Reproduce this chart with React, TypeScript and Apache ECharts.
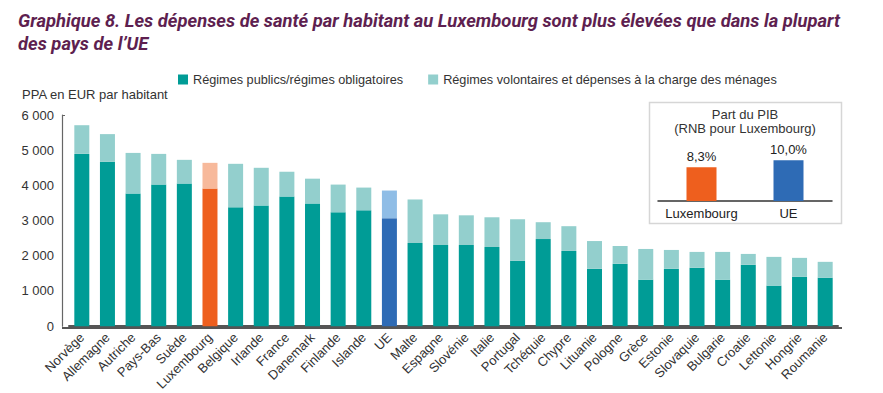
import React, { useEffect, useRef } from "react";
import * as echarts from "echarts";

const countries = ["Norvège","Allemagne","Autriche","Pays-Bas","Suède","Luxembourg","Belgique","Irlande","France","Danemark","Finlande","Islande","UE","Malte","Espagne","Slovénie","Italie","Portugal","Tchéquie","Chypre","Lituanie","Pologne","Grèce","Estonie","Slovaquie","Bulgarie","Croatie","Lettonie","Hongrie","Roumanie"];
const publicValues = [4895,4670,3770,4023,4051,3910,3376,3432,3685,3488,3235,3291,3066,2363,2307,2307,2250,1857,2475,2138,1631,1772,1322,1631,1660,1322,1744,1153,1406,1378];
const totalValues = [5710,5457,4923,4895,4726,4641,4613,4500,4388,4191,4023,3938,3854,3600,3178,3150,3094,3038,2954,2841,2419,2278,2194,2166,2110,2110,2053,1969,1941,1828];
const yTicks = [0, 1000, 2000, 3000, 4000, 5000, 6000];
const insetCategories = ["Luxembourg", "UE"];
const insetValues = [8.3, 10.0];
const legendNames = ["Régimes publics/régimes obligatoires", "Régimes volontaires et dépenses à la charge des ménages"];

const TEAL = "#009C96";
const TEAL_LIGHT = "#93CFCD";
const ORANGE = "#EE5F1E";
const ORANGE_LIGHT = "#F7B99B";
const BLUE = "#2E6BB5";
const BLUE_LIGHT = "#8FBDE6";
const FONT = "'Liberation Sans', Arial, sans-serif";

function fmt(v: number): string {
  return v === 0 ? "0" : String(v).replace(/\B(?=(\d{3})+(?!\d))/g, " ");
}

export default function App() {
  const ref = useRef<HTMLDivElement>(null);
  useEffect(() => {
    if (!ref.current) return;
    const chart = echarts.init(ref.current, null, { renderer: "svg" });
    const pubData = countries.map((c, i) => {
      let color = TEAL;
      if (c === "Luxembourg") color = ORANGE;
      if (c === "UE") color = BLUE;
      return { value: publicValues[i], itemStyle: { color } };
    });
    const volData = countries.map((c, i) => {
      let color = TEAL_LIGHT;
      if (c === "Luxembourg") color = ORANGE_LIGHT;
      if (c === "UE") color = BLUE_LIGHT;
      return { value: totalValues[i] - publicValues[i], itemStyle: { color } };
    });
    const option: any = {
      animation: false,
      backgroundColor: "#ffffff",
      textStyle: { fontFamily: FONT },
      title: {
        text: "Graphique 8. Les dépenses de santé par habitant au Luxembourg sont plus élevées que dans la plupart\ndes pays de l’UE",
        left: 13,
        top: 4,
        textStyle: {
          fontFamily: "'Liberation Sans Narrow', 'Roboto', sans-serif",
          fontStyle: "italic",
          fontWeight: "bold",
          fontSize: 18.4,
          lineHeight: 23,
          color: "#5E1F50",
        },
      },
      legend: {
        left: 173,
        top: 68,
        itemWidth: 10,
        itemHeight: 10,
        itemGap: 25,
        icon: "rect",
        textStyle: { fontSize: 12.7, color: "#333", fontFamily: FONT },
        data: [
          { name: legendNames[0], itemStyle: { color: TEAL } },
          { name: legendNames[1], itemStyle: { color: TEAL_LIGHT } },
        ],
      },
      grid: [
        { left: 69, right: 45, top: 115, bottom: 65, containLabel: false },
        { left: 658, right: 51, top: 150, bottom: 192, containLabel: false },
      ],
      xAxis: [
        {
          type: "category",
          gridIndex: 0,
          data: countries,
          axisLine: { lineStyle: { color: "#555", width: 2 } },
          axisTick: { show: false },
          axisLabel: { rotate: 45, fontSize: 13, color: "#333", margin: 9, interval: 0 },
        },
        {
          type: "category",
          gridIndex: 1,
          data: insetCategories,
          axisLine: { lineStyle: { color: "#333", width: 1.5 } },
          axisTick: { show: false },
          axisLabel: { fontSize: 13, color: "#222", margin: 6, interval: 0, hideOverlap: false },
        },
      ],
      yAxis: [
        {
          type: "value",
          gridIndex: 0,
          min: 0,
          max: 6000,
          interval: 1000,
          offset: 7,
          name: "PPA en EUR par habitant",
          nameLocation: "end",
          nameGap: 14,
          nameTextStyle: { fontSize: 13, color: "#333", align: "left", padding: [0, 0, 0, -40] },
          axisLine: { show: true, lineStyle: { color: "#666", width: 1.2 } },
          axisTick: { show: false },
          splitLine: { show: false },
          axisLabel: { fontSize: 13, color: "#333", margin: 8, formatter: (v: number) => fmt(v) },
        },
        {
          type: "value",
          gridIndex: 1,
          min: 0,
          max: 12.5,
          show: false,
          splitLine: { show: false },
        },
      ],
      graphic: [
        {
          type: "rect",
          shape: { x: 649.5, y: 102.5, width: 192, height: 121 },
          style: { fill: "none", stroke: "#d6d6d6", lineWidth: 1.5 },
          z: 0,
        },
        {
          type: "text",
          x: 745,
          y: 108,
          style: {
            text: "Part du PIB",
            fill: "#333",
            align: "center",
            font: "13px 'Liberation Sans', Arial, sans-serif",
          },
        },
        {
          type: "text",
          x: 745,
          y: 122,
          style: {
            text: "(RNB pour Luxembourg)",
            fill: "#333",
            align: "center",
            font: "13px 'Liberation Sans', Arial, sans-serif",
          },
        },
        {
          type: "line",
          shape: { x1: 62, y1: 328, x2: 842, y2: 328 },
          style: { stroke: "#555", lineWidth: 2 },
          z: 10,
        },
        {
          type: "line",
          shape: { x1: 62, y1: 115.5, x2: 65, y2: 115.5 },
          style: { stroke: "#666", lineWidth: 1 },
        },
      ],
      series: [
        {
          name: legendNames[0],
          type: "bar",
          stack: "total",
          xAxisIndex: 0,
          yAxisIndex: 0,
          barWidth: 15,
          itemStyle: { color: TEAL },
          data: pubData,
        },
        {
          name: legendNames[1],
          type: "bar",
          stack: "total",
          xAxisIndex: 0,
          yAxisIndex: 0,
          barWidth: 15,
          itemStyle: { color: TEAL_LIGHT },
          data: volData,
        },
        {
          name: "Part du PIB",
          type: "bar",
          xAxisIndex: 1,
          yAxisIndex: 1,
          barWidth: 30,
          data: [
            { value: insetValues[0], itemStyle: { color: ORANGE } },
            { value: insetValues[1], itemStyle: { color: BLUE } },
          ],
          label: {
            show: true,
            position: "top",
            distance: 4,
            fontSize: 13,
            color: "#222",
            formatter: (p: any) => p.value.toFixed(1).replace(".", ",") + "%",
          },
        },
      ],
    };
    chart.setOption(option);
    return () => chart.dispose();
  }, []);
  return <div ref={ref} style={{ width: 883, height: 393, position: "absolute", left: 0, top: 0 }} />;
}
